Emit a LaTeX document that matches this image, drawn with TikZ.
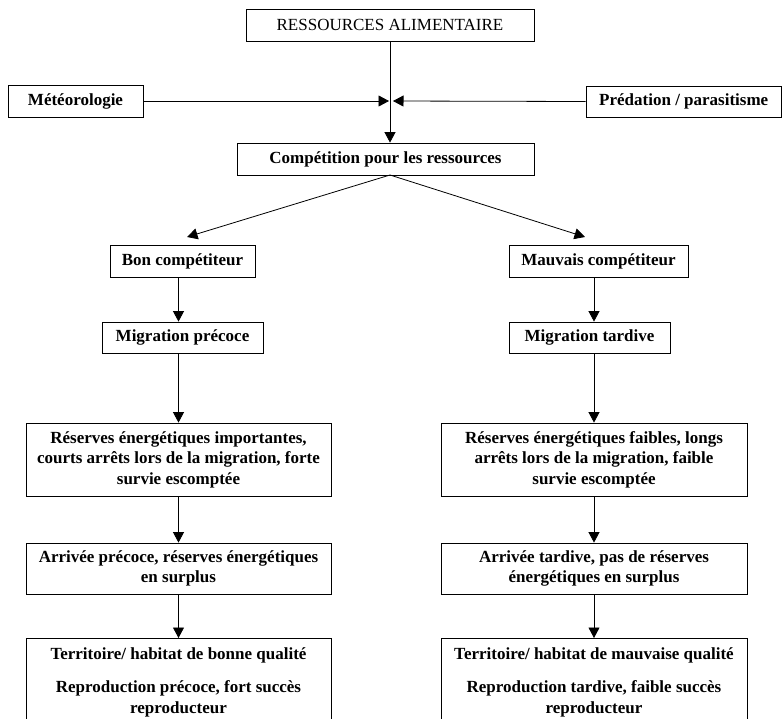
\documentclass[tikz,border=0pt]{standalone}
\usepackage{fontspec}
\setmainfont{Liberation Serif}
\usetikzlibrary{arrows.meta,positioning}
\begin{document}
\begin{tikzpicture}[x=1pt,y=-1pt,line width=0.8pt,
    box/.style={draw, rectangle, inner sep=0pt, align=center,
      font=\bfseries\fontsize{17}{20.5}\selectfont},
    tip/.style={-{Triangle[length=10.5pt,width=11pt]}}]
    \useasboundingbox (0,0) rectangle (782,718);
    \clip (0,0) rectangle (782,718);
    \node[box,font=\fontsize{17}{20.5}\selectfont,minimum width=288,minimum height=32] (res) at (390,25) {RESSOURCES ALIMENTAIRE};
    \node[box,minimum width=135,minimum height=32] (meteo) at (75.5,101) {Météorologie};
    \node[box,minimum width=195.5,minimum height=31] (pred) at (683.75,101.5) {Prédation / parasitisme};
    \node[box,minimum width=297,minimum height=32] (comp) at (385.5,159) {Compétition pour les ressources};
    \node[box,minimum width=145,minimum height=32] (bon) at (182.5,261) {Bon compétiteur};
    \node[box,minimum width=179,minimum height=32] (mauv) at (598.5,261) {Mauvais compétiteur};
    \node[box,minimum width=161,minimum height=31] (migp) at (182.5,337.5) {Migration précoce};
    \node[box,minimum width=161,minimum height=31] (migt) at (589.5,337.5) {Migration tardive};
    \node[box,minimum width=305,minimum height=73] (resl) at (178.5,459.5)
      {Réserves énergétiques importantes,\\ courts arrêts lors de la migration, forte\\ survie escomptée};
    \node[box,minimum width=306,minimum height=73] (resr) at (594,459.5)
      {Réserves énergétiques faibles, longs\\ arrêts lors de la migration, faible\\ survie escomptée};
    \node[box,minimum width=305,minimum height=51] (arrl) at (178.5,568.5)
      {Arrivée précoce, réserves énergétiques\\ en surplus};
    \node[box,minimum width=306,minimum height=51] (arrr) at (594,568.5)
      {Arrivée tardive, pas de réserves\\ énergétiques en surplus};
    \node[box,anchor=north,minimum width=305,inner ysep=9pt,text depth=40pt] (terl) at (178.5,638)
      {Territoire/ habitat de bonne qualité\\[13pt] Reproduction précoce, fort succès\\ reproducteur};
    \node[box,anchor=north,minimum width=306,inner ysep=9pt,text depth=40pt] (terr) at (594,638)
      {Territoire/ habitat de mauvaise qualité\\[13pt] Reproduction tardive, faible succès\\ reproducteur};
    \coordinate (mj) at (389,101);
    \coordinate (pj) at (393,101);
    \coordinate (split) at (390,175);
    \coordinate (bontip) at (187,237);
    \coordinate (mauvtip) at (585,237);
    \draw[tip] (res.south) -- (res.south |- comp.north);
    \draw[tip] (meteo.east) -- (mj);
    \draw[tip] (pred.west) -- (pj);
    \draw[tip] (split) -- (bontip);
    \draw[tip] (split) -- (mauvtip);
    \draw[tip] (resl.north |- bon.south) -- (resl.north |- migp.north);
    \draw[tip] (resl.north |- migp.south) -- (resl.north);
    \draw[tip] (resl.south) -- (arrl.north);
    \draw[tip] (arrl.south) -- (terl.north);
    \draw[tip] (resr.north |- mauv.south) -- (resr.north |- migt.north);
    \draw[tip] (resr.north |- migt.south) -- (resr.north);
    \draw[tip] (resr.south) -- (arrr.north);
    \draw[tip] (arrr.south) -- (terr.north);
\end{tikzpicture}
\end{document}
